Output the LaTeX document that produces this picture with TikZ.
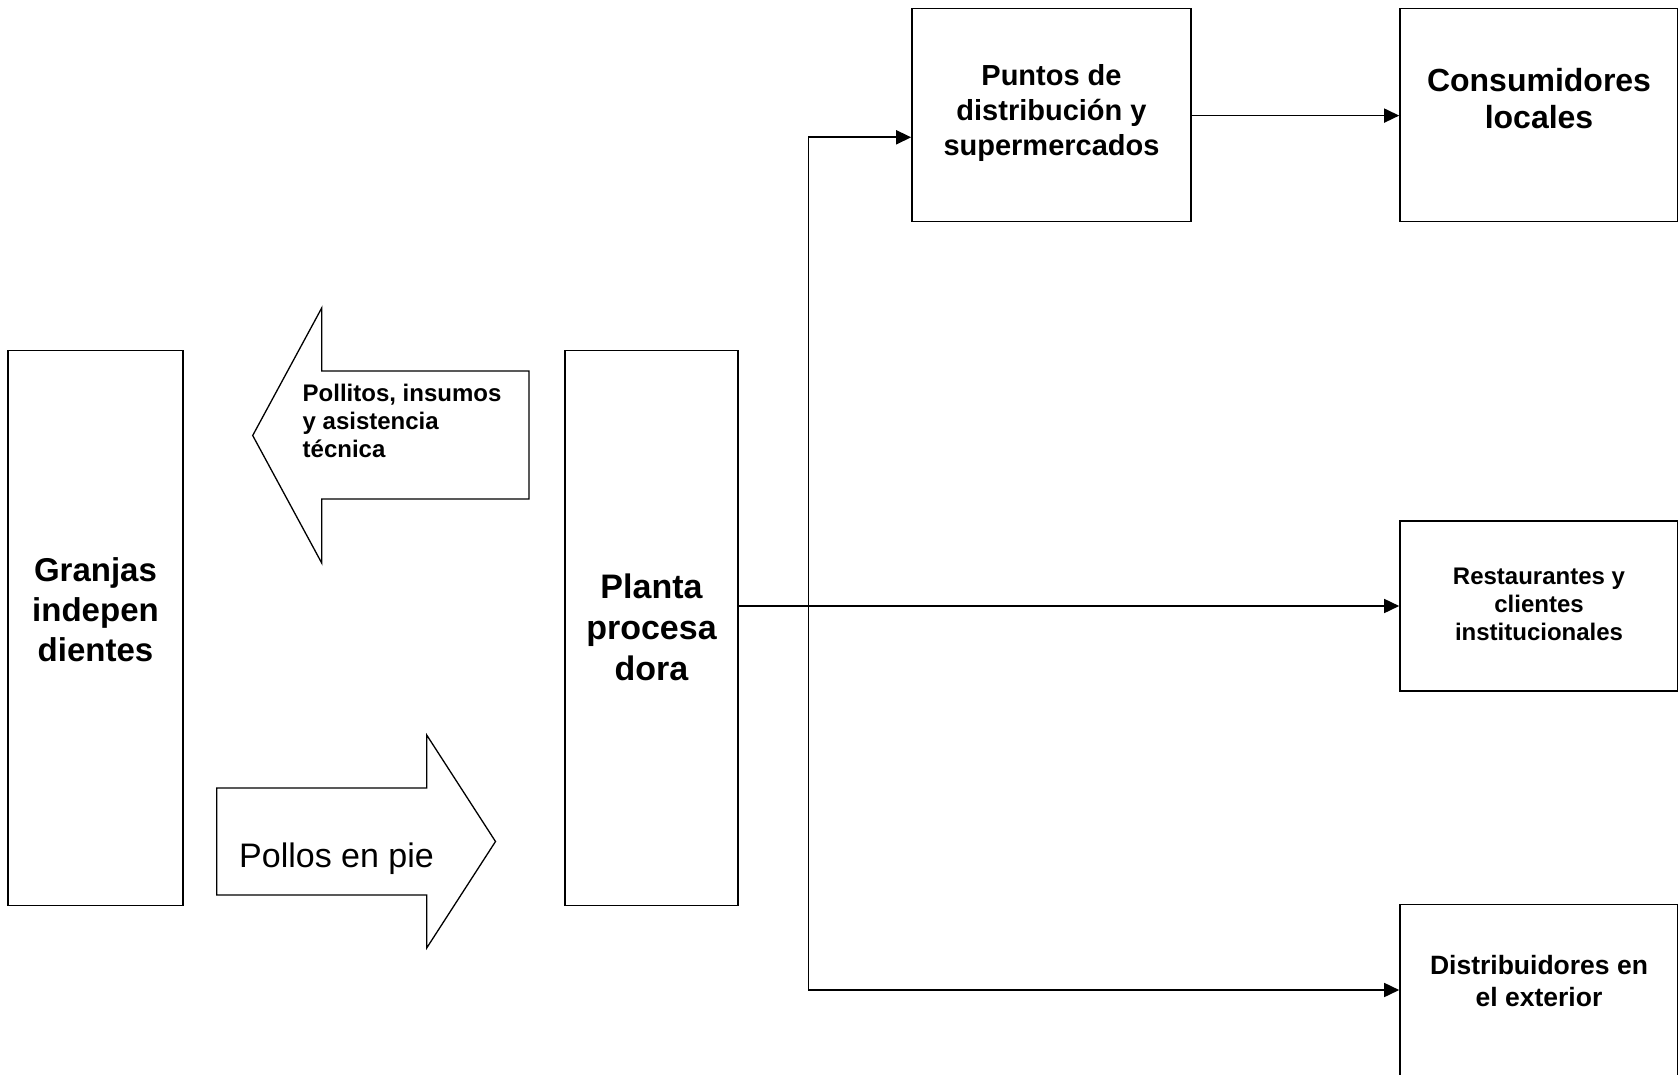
\documentclass[tikz,border=0pt]{standalone}
\usepackage{fontspec}
\setmainfont{Liberation Sans}
\usetikzlibrary{arrows.meta}
\begin{document}
\begin{tikzpicture}[x=1pt,y=-1pt,
  box/.style={draw,line width=1.6pt,rectangle,inner sep=0pt},
  bigarrow/.style={draw,line width=1.3pt,line join=miter},
  conn/.style={line width=1.6pt,-{Triangle[length=15pt,width=14pt]}},
  plain/.style={line width=1.6pt},
  txt/.style={align=center,inner sep=0pt,font=\bfseries}]
\useasboundingbox (0,0) rectangle (1678,1075);
% boxes
\node[box,minimum width=175pt,minimum height=555pt] (granjas) at (95.5,628) {};
\node[box,minimum width=173pt,minimum height=555pt] (planta) at (651.5,628) {};
\node[box,minimum width=279pt,minimum height=213pt] (puntos) at (1051.5,115) {};
\node[box,minimum width=278pt,minimum height=213pt] (consum) at (1539,115) {};
\node[box,minimum width=278pt,minimum height=170pt] (rest) at (1539,606) {};
\node[box,minimum width=278pt,minimum height=175pt] (distr) at (1539,992) {};
% texts
\node[txt,font=\bfseries\fontsize{33}{40}\selectfont] (granjas-t) at (95.5,610) {Granjas\\indepen\\dientes};
\node[txt,font=\bfseries\fontsize{34}{41}\selectfont] (planta-t) at (651.5,627) {Planta\\procesa\\dora};
\node[txt,font=\bfseries\fontsize{29}{35}\selectfont] (puntos-t) at (1051.5,113.5) {Puntos de\\distribución y\\supermercados};
\node[txt,font=\bfseries\fontsize{32}{37}\selectfont] (consum-t) at (1539,98.5) {Consumidores\\locales};
\node[txt,font=\bfseries\fontsize{24}{28}\selectfont] (rest-t) at (1539,604.5) {Restaurantes y\\clientes\\institucionales};
\node[txt,font=\bfseries\fontsize{26.5}{32.5}\selectfont] (distr-t) at (1539,981) {Distribuidores en\\el exterior};
% big block arrows
\draw[bigarrow] (252.7,435.5) -- (321.7,308) -- (321.7,371) -- (529,371) -- (529,499) -- (321.7,499) -- (321.7,563) -- cycle;
\node[align=left,anchor=west,inner sep=0pt,font=\bfseries\fontsize{24}{28}\selectfont] (pollitos) at (302.5,421) {Pollitos, insumos\\y asistencia\\técnica};
\draw[bigarrow] (216.7,788) -- (426.7,788) -- (426.7,735) -- (495.5,841.5) -- (426.7,948) -- (426.7,895) -- (216.7,895) -- cycle;
\node[anchor=west,inner sep=0pt,font=\fontsize{34}{40}\selectfont] (pollos) at (239,859) {Pollos en pie};
% connectors
\coordinate (vtop) at (808.3,137.3);
\coordinate (vbot) at (808.3,990);
\draw[conn] (planta.east |- rest.west) -- (rest.west);
\draw[plain] (vbot) -- (vtop);
\draw[conn] (vtop) -- (vtop -| puntos.west);
\draw[conn] (puntos.east |- 0,115.6) -- (consum.west |- 0,115.6);
\draw[conn] (vbot) -- (vbot -| distr.west);
\end{tikzpicture}
\end{document}
